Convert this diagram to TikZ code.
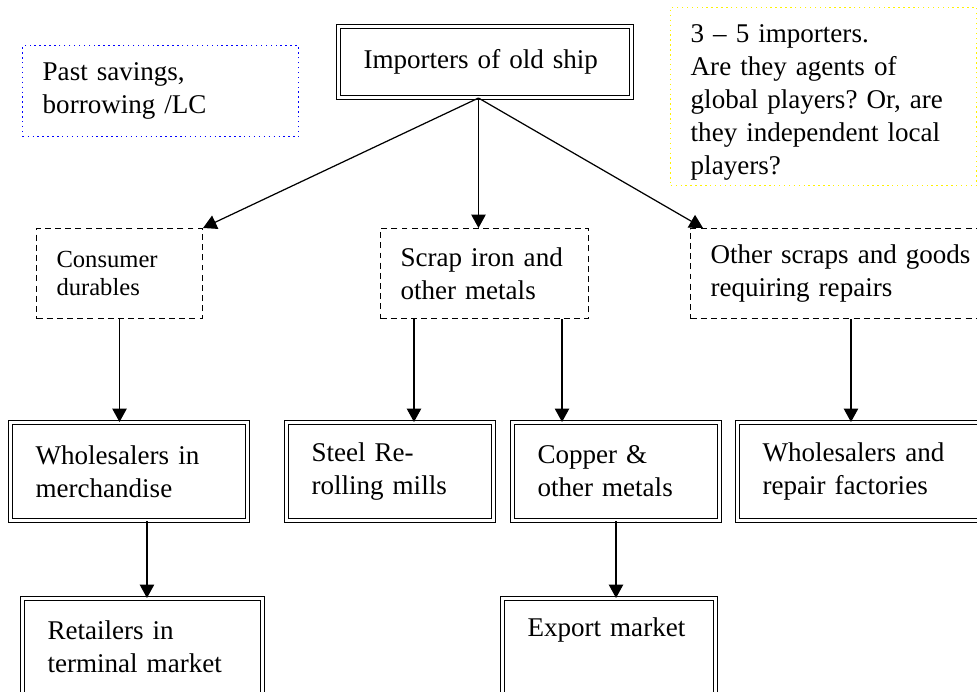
\documentclass[tikz,border=0pt]{standalone}
\usepackage{fontspec}
\setmainfont{Liberation Serif}
\usepackage{tikz}
\usetikzlibrary{arrows.meta,positioning,calc}
\frenchspacing
\hyphenpenalty=10000
\exhyphenpenalty=10000
\tikzset{
  dbox/.style={draw, double, double distance=1.5pt, line width=0.6pt, align=left,
    inner xsep=5mm, anchor=north west, font=\fontsize{15.4}{18.8}\selectfont},
  dashbox/.style={draw, dash pattern=on 3.4pt off 2.4pt, line width=0.6pt, align=left,
    inner xsep=4mm, anchor=north west, font=\fontsize{15.4}{18.8}\selectfont},
  notebox/.style={draw, dotted, line width=0.8pt, align=left,
    inner xsep=4mm, anchor=north west, font=\fontsize{15.4}{18.8}\selectfont},
  flow/.style={-{Triangle[length=2.7mm,width=2.9mm]}, line width=0.7pt}
}

\begin{document}
\begin{tikzpicture}[x=0.02cm, y=-0.02cm]
  \clip (0,0) rectangle (977,692);
  % top level
  \node[dbox, text width=4.86cm, minimum height=1.42cm] (imp) at (338,26) {Importers of old ship};
  \node[notebox, blue, text=black, text width=4.72cm, minimum height=1.82cm] (sav) at (22,45)
    {Past savings,\\ borrowing /LC};
  \node[notebox, yellow, text=black, text width=5.32cm, minimum height=3.56cm,
    inner ysep=0pt, text height=0.6cm] (ask) at (670,7)
    {3 -- 5 importers.\\ Are they agents of\\ global players? Or, are\\ they independent local\\ players?};
  % goods
  \node[dashbox, text width=2.52cm, minimum height=1.8cm, font=\fontsize{14}{15.9}\selectfont] (cons) at (36,228)
    {Consumer\\ durables};
  \node[dashbox, text width=3.36cm, minimum height=1.8cm] (scrap) at (380,228)
    {Scrap iron and\\ other metals};
  \node[dashbox, text width=5.8cm, minimum height=1.8cm] (other) at (690,228)
    {Other scraps and goods\\ requiring repairs};
  % buyers
  \node[dbox, text width=3.74cm, minimum height=1.96cm] (whm) at (10,422) {Wholesalers in\\ merchandise};
  \node[dbox, text width=3.14cm, minimum height=1.96cm] (steel) at (286,422) {Steel Re-\\ rolling mills};
  \node[dbox, text width=3.14cm, minimum height=1.96cm] (copper) at (512,422) {Copper \&\\ other metals};
  \node[dbox, text width=4.0cm, minimum height=1.96cm] (repair) at (737,422) {Wholesalers and\\ repair factories};
  % end markets
  \node[dbox, text width=3.8cm, minimum height=2.0cm, text depth=0.75cm] (ret) at (22,598)
    {Retailers in\\ terminal market};
  \node[dbox, text width=3.26cm, minimum height=2.0cm, text depth=0.85cm] (exp) at (502,598) {Export market};

  \coordinate (fork) at ([xshift=-1.3mm]imp.south);
  \draw[flow] (fork) -- (cons.north east);
  \draw[flow] (fork) -- (fork |- scrap.north);
  \draw[flow] (fork) -- ([xshift=2.6mm]other.north west);
  \draw[flow] (cons.south) -- (cons.south |- whm.north);
  \draw[flow] ([xshift=6.8mm]scrap.south west) coordinate (s1) -- (s1 |- steel.north);
  \draw[flow] ([xshift=-5.4mm]scrap.south east) coordinate (s2) -- (s2 |- copper.north);
  \draw[flow] ([xshift=32.2mm]other.south west) coordinate (o1) -- (o1 |- repair.north);
  \draw[flow] ([xshift=27.4mm]whm.south west) coordinate (w1) -- (w1 |- ret.north);
  \draw[flow] (copper.south) -- (copper.south |- exp.north);
\end{tikzpicture}
\end{document}
